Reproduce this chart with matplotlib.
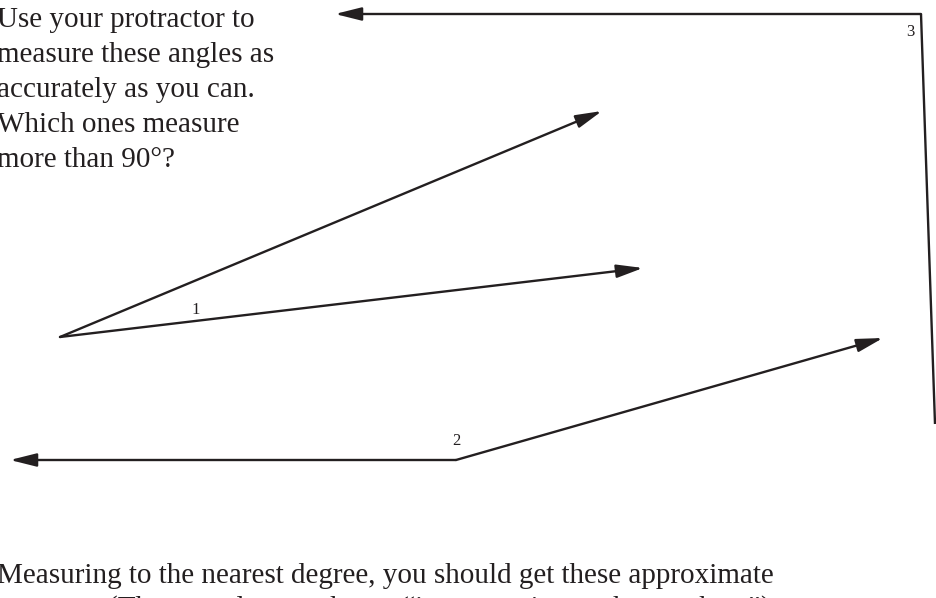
import matplotlib.pyplot as plt

# angle diagram, pixel coordinates (y grows downward)
labels = ["1", "2", "3"]
vertex_x = [60, 456, 921]
vertex_y = [337, 460, 14]
ray_a_x = [602, 10, 335]
ray_a_y = [111, 460, 14]
ray_b_x = [643, 883, 935]
ray_b_y = [268, 338, 424]
ray_b_arrow = [True, True, False]
label_x = [196, 456, 910]
label_y = [310, 441, 32]

intro_lines = [
    "Use your protractor to",
    "measure these angles as",
    "accurately as you can.",
    "Which ones measure",
    "more than 90°?",
]
footer_lines = [
    "Measuring to the nearest degree, you should get these approximate",
    "(These angles are shown “in proportion to the numbers”)",
]

ink = "#231f20"
plt.rcParams['font.family'] = ['Liberation Serif', 'DejaVu Serif']

fig = plt.figure(figsize=(9.36, 5.98), dpi=100)
ax = fig.add_axes([0, 0, 1, 1])
ax.set_xlim(0, 936)
ax.set_ylim(598, 0)
ax.axis('off')

arrow = dict(arrowstyle='-|>,head_length=0.8,head_width=0.2', color=ink, lw=1.7,
             shrinkA=0, shrinkB=0, mutation_scale=20)

for i in range(len(labels)):
    v = (vertex_x[i], vertex_y[i])
    ax.annotate('', xy=(ray_a_x[i], ray_a_y[i]), xytext=v, arrowprops=arrow)
    if ray_b_arrow[i]:
        ax.annotate('', xy=(ray_b_x[i], ray_b_y[i]), xytext=v, arrowprops=arrow)
    else:
        ax.plot([v[0], ray_b_x[i]], [v[1], ray_b_y[i]], color=ink, lw=1.7,
                solid_capstyle='butt')
    ax.text(label_x[i], label_y[i], labels[i], fontsize=12, color=ink,
            ha='center', va='center')

for k, line in enumerate(intro_lines):
    ax.text(-3, 27 + k * 35, line, fontsize=21, color=ink, ha='left', va='baseline')

ax.text(-3, 583, footer_lines[0], fontsize=21, color=ink, ha='left', va='baseline')
ax.text(108, 616, footer_lines[1], fontsize=21, color=ink, ha='left', va='baseline')

fig.savefig("out.png", dpi=100)
